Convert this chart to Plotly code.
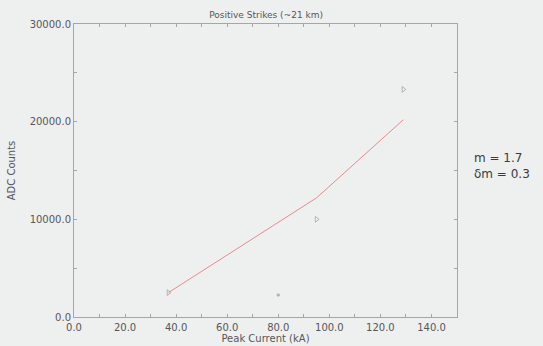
import plotly.graph_objects as go

# Measured strikes
peak_current_ka = [37.0, 80.0, 95.0, 129.0]
adc_counts = [2500, 2250, 10000, 23300]

# Power-law fit evaluated at the fitted strikes
fit_current_ka = [37.0, 95.0, 129.0]
fit_adc_counts = [2500, 12200, 20200]

slope_text = "m = 1.7<br>δm = 0.3"

bg = "#eeefef"
axis_grey = "#a4a6a8"
label_grey = "#555759"
font_family = "DejaVu Sans, Verdana, sans-serif"

fig = go.Figure()

fig.add_trace(go.Scatter(
    x=fit_current_ka, y=fit_adc_counts, mode="lines",
    line=dict(color="#e88a8f", width=1),
    hoverinfo="skip", showlegend=False,
))

# the 80 kA strike was left out of the fit and is drawn as a small dot
fig.add_trace(go.Scatter(
    x=peak_current_ka, y=adc_counts, mode="markers",
    marker=dict(symbol=["triangle-right-open", "square",
                        "triangle-right-open", "triangle-right-open"],
                size=[5, 2, 5, 5],
                color="#9a9c9e", line=dict(width=1, color="#9a9c9e")),
    showlegend=False,
))

axis_common = dict(
    showgrid=False, zeroline=False, automargin=False,
    showline=True, linecolor=axis_grey, linewidth=1, mirror="ticks",
    ticks="inside", ticklen=3, tickcolor=axis_grey,
    tickfont=dict(family=font_family, size=10, color=label_grey),
    title_font=dict(family=font_family, size=10, color=label_grey),
    minor=dict(ticks="inside", ticklen=3, tickcolor=axis_grey),
)

fig.update_xaxes(
    range=[0, 150], tickvals=[0, 20, 40, 60, 80, 100, 120, 140],
    ticktext=["0.0", "20.0", "40.0", "60.0", "80.0", "100.0", "120.0", "140.0"],
    title=dict(text="Peak Current (kA)", standoff=0),
    ticklabelstandoff=1,
    **axis_common,
)
fig.update_xaxes(minor=dict(dtick=10, tick0=0))

fig.update_yaxes(
    range=[0, 30000], tickvals=[0, 10000, 20000, 30000],
    ticktext=["0.0", "10000.0", "20000.0", "30000.0"],
    title=dict(text="ADC Counts", standoff=12),
    **axis_common,
)
fig.update_yaxes(minor=dict(dtick=5000, tick0=0))

fig.add_annotation(
    text=slope_text, xref="paper", yref="paper", x=1.04, y=0.515,
    xanchor="left", yanchor="middle", showarrow=False, align="left",
    font=dict(family=font_family, size=12, color="#3a3b3c"),
)

fig.update_layout(
    width=543, height=346,
    margin=dict(l=74, r=86, t=24, b=29, autoexpand=False),
    paper_bgcolor=bg, plot_bgcolor=bg,
    title=dict(text="Positive Strikes (~21 km)", x=0.49, xanchor="center",
               y=0.958, yanchor="middle", automargin=False,
               font=dict(family=font_family, size=9, color=label_grey)),
)

fig.write_html("out.html")
